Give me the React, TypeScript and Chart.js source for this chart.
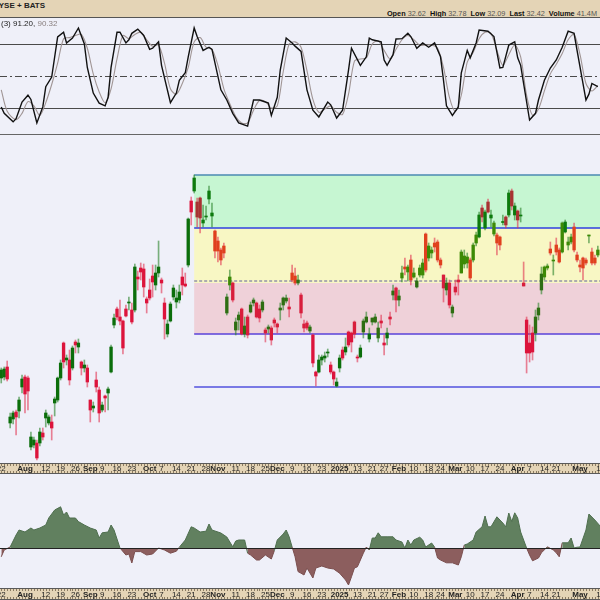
import React, { useEffect, useRef } from "react";
import { Chart, registerables } from "chart.js";

Chart.register(...registerables);

// x axis = trading-day index, 0 = 2024-07-22
const X_MIN = -0.42;
const X_MAX = 201.73;

const tickIdx = [0, 8, 15, 20, 25, 30, 34, 39, 44, 50, 54, 59, 64, 69, 73, 79, 84, 89, 93, 98, 103, 108, 114, 120, 125, 129, 134, 139, 144, 148, 153, 158, 163, 168, 174, 178, 183, 187, 195, 202];
const tickLabels = ["22", "Aug", "12", "19", "26", "Sep", "9", "16", "23", "Oct", "7", "14", "21", "28", "Nov", "11", "18", "25", "Dec", "9", "16", "23", "2025", "13", "21", "27", "Feb", "10", "18", "24", "Mar", "10", "17", "24", "Apr", "7", "14", "21", "May", "12"];
const monthLabels = ["Aug", "Sep", "Oct", "Nov", "Dec", "2025", "Feb", "Mar", "Apr", "May"];

const opens = [
  26.88, 26.92, 27.32, 25.08, 25.24, 25.52, 25.56, 26.52, 26.92, 26.88,
  24.12, 24.20, 24.28, 24.28, 24.68, 25.28, 25.08, 25.12, 25.88, 26.00,
  26.88, 28.28, 27.60, 27.60, 27.28, 28.32, 28.12, 27.52, 27.28, 27.28,
  26.00, 25.68, 26.80, 26.40, 25.60, 26.16, 26.28, 27.12, 29.00, 29.64,
  29.32, 29.16, 29.64, 29.88, 29.60, 29.60, 30.92, 31.28, 31.24, 30.04,
  30.40, 30.96, 30.60, 31.08, 30.80, 29.88, 28.64, 29.16, 30.12, 29.92,
  30.00, 30.92, 30.64, 31.40, 33.96, 34.36, 33.92, 34.08, 33.08, 33.32,
  34.04, 33.36, 32.76, 32.36, 32.00, 32.16, 29.48, 30.60, 30.68, 28.80,
  29.20, 29.64, 28.64, 29.32, 29.52, 29.88, 29.88, 29.64, 29.60, 28.80,
  28.84, 28.88, 29.20, 29.04, 29.60, 29.80, 29.96, 29.72, 31.08, 30.96,
  30.68, 30.20, 29.04, 29.08, 28.76, 28.60, 27.12, 27.12, 27.60, 27.68,
  27.88, 27.40, 27.12, 26.56, 27.28, 28.00, 27.92, 28.72, 28.68, 29.12,
  27.72, 27.72, 28.72, 29.12, 28.44, 29.12, 29.12, 28.48, 29.16, 28.28,
  28.48, 29.32, 30.20, 30.48, 30.00, 30.88, 31.32, 31.12, 31.60, 30.92,
  30.52, 31.00, 31.00, 32.64, 31.68, 31.88, 32.28, 32.32, 31.60, 31.00,
  30.40, 30.68, 29.48, 30.52, 30.80, 31.08, 31.44, 31.48, 31.60, 31.60,
  32.28, 32.52, 33.68, 32.88, 33.92, 33.28, 32.64, 32.60, 32.52, 33.10,
  33.32, 33.40, 34.36, 33.40, 33.56, 33.36, 30.68, 29.20, 28.28, 28.68,
  28.68, 29.40, 30.40, 30.92, 31.28, 32.04, 31.56, 32.20, 32.00, 31.92,
  32.72, 32.20, 32.32, 32.92, 31.80, 31.40, 31.68, 31.60, 32.56, 31.92,
  31.68, 31.80,
];
const highs = [
  27.28, 27.32, 27.56, 25.48, 25.56, 25.60, 26.12, 27.00, 27.00, 26.96,
  24.72, 24.52, 24.40, 24.88, 24.88, 25.60, 25.40, 25.40, 26.12, 26.92,
  27.60, 28.32, 27.80, 28.00, 28.16, 28.40, 28.44, 27.56, 27.60, 27.40,
  26.00, 25.92, 27.12, 26.52, 25.92, 26.20, 26.52, 28.20, 29.44, 29.72,
  30.00, 29.20, 29.80, 30.12, 29.88, 31.44, 31.16, 31.48, 31.44, 30.12,
  30.84, 31.40, 31.40, 32.36, 30.88, 30.08, 29.20, 29.92, 30.60, 30.40,
  30.60, 31.28, 31.08, 33.28, 34.12, 35.00, 34.08, 34.12, 33.80, 33.76,
  34.56, 33.88, 32.80, 32.52, 32.08, 32.28, 30.24, 31.20, 30.72, 29.28,
  29.52, 29.68, 29.32, 29.40, 29.92, 30.08, 29.92, 29.80, 30.00, 28.88,
  29.00, 28.96, 29.28, 29.08, 29.88, 30.12, 30.20, 30.08, 31.40, 31.28,
  31.00, 30.28, 29.20, 29.16, 29.00, 28.64, 27.16, 27.80, 27.80, 27.92,
  28.04, 27.52, 27.16, 26.88, 27.80, 28.12, 28.48, 28.76, 28.72, 29.16,
  27.80, 28.20, 29.24, 29.52, 28.88, 29.28, 29.44, 29.12, 29.40, 28.60,
  28.88, 29.52, 30.60, 30.52, 30.40, 31.36, 31.68, 31.40, 31.80, 31.28,
  30.88, 31.40, 31.64, 32.68, 32.28, 32.12, 32.48, 32.40, 31.68, 31.00,
  30.88, 30.80, 29.80, 30.80, 31.00, 32.00, 32.00, 31.88, 31.68, 32.28,
  32.72, 33.52, 33.80, 33.60, 34.04, 33.60, 33.16, 32.68, 32.56, 33.40,
  33.36, 34.40, 34.44, 33.88, 33.60, 33.68, 31.52, 29.32, 29.00, 28.92,
  29.60, 29.88, 31.32, 31.36, 31.44, 32.32, 31.80, 32.48, 32.08, 33.12,
  33.20, 32.52, 32.64, 33.08, 31.92, 31.60, 31.72, 31.68, 32.60, 32.08,
  31.80, 32.16,
];
const lows = [
  26.68, 26.80, 26.76, 24.88, 25.04, 24.60, 25.28, 26.28, 25.48, 25.60,
  24.00, 24.08, 23.60, 24.16, 24.40, 24.92, 25.00, 24.40, 25.36, 25.92,
  26.80, 27.28, 27.40, 26.60, 27.20, 27.88, 27.88, 27.00, 27.12, 26.52,
  25.12, 25.52, 26.32, 25.12, 25.52, 25.52, 25.60, 27.08, 28.88, 29.20,
  29.00, 27.84, 29.32, 29.60, 29.04, 29.52, 30.40, 30.80, 30.12, 29.48,
  30.00, 30.12, 30.40, 30.92, 30.28, 28.44, 28.52, 29.12, 30.00, 29.68,
  29.88, 30.20, 30.52, 31.32, 33.00, 34.28, 32.92, 32.68, 32.92, 33.20,
  33.84, 32.92, 31.68, 31.52, 31.40, 31.68, 29.40, 30.40, 29.92, 28.60,
  28.80, 28.60, 28.52, 28.48, 29.48, 29.76, 29.28, 29.12, 29.52, 28.32,
  28.68, 28.20, 28.92, 28.68, 29.20, 29.60, 29.88, 29.32, 30.72, 30.60,
  30.60, 29.28, 28.72, 28.80, 28.68, 27.32, 26.56, 27.08, 27.40, 27.52,
  27.72, 27.04, 26.60, 26.52, 27.12, 27.60, 27.80, 28.12, 27.92, 28.48,
  27.52, 27.68, 28.48, 29.08, 28.32, 29.00, 29.08, 28.32, 28.88, 27.80,
  28.20, 29.00, 30.00, 29.52, 29.76, 30.72, 31.00, 30.76, 30.60, 30.88,
  30.48, 30.92, 30.88, 31.12, 31.56, 31.68, 31.92, 31.52, 31.28, 29.92,
  30.20, 29.68, 29.32, 30.20, 30.20, 31.08, 31.28, 31.28, 30.80, 31.52,
  32.16, 32.48, 33.12, 32.80, 33.48, 32.92, 32.56, 31.80, 32.00, 33.00,
  32.88, 33.32, 33.60, 33.20, 32.88, 33.12, 30.56, 27.08, 27.52, 27.60,
  28.36, 29.20, 30.24, 30.80, 31.20, 31.80, 31.00, 31.80, 31.48, 31.88,
  32.68, 32.00, 32.24, 31.92, 31.52, 31.12, 30.80, 31.40, 32.28, 31.40,
  31.40, 31.72,
];
const closes = [
  27.20, 27.24, 26.84, 25.32, 25.48, 25.32, 26.00, 26.84, 26.24, 26.36,
  24.52, 24.40, 23.68, 24.72, 24.52, 25.48, 25.32, 24.88, 26.04, 26.88,
  27.48, 27.52, 27.68, 26.80, 28.08, 28.20, 28.28, 27.28, 27.40, 26.72,
  25.60, 25.76, 26.52, 25.48, 25.80, 26.08, 26.44, 28.12, 29.28, 29.32,
  29.16, 28.08, 29.36, 29.92, 29.12, 31.32, 30.84, 31.12, 30.52, 29.88,
  30.08, 30.72, 31.08, 31.32, 30.68, 29.24, 29.04, 29.84, 30.48, 30.08,
  30.32, 30.60, 30.56, 33.24, 33.52, 34.88, 33.32, 33.28, 33.20, 33.36,
  34.36, 33.48, 31.96, 31.96, 31.60, 31.88, 30.12, 30.92, 30.00, 29.12,
  29.40, 28.64, 28.96, 28.60, 29.80, 30.00, 29.32, 29.28, 29.92, 28.68,
  28.92, 28.40, 29.08, 28.92, 29.68, 30.08, 30.08, 29.64, 30.80, 30.68,
  30.80, 29.48, 28.88, 28.88, 28.92, 27.48, 26.96, 27.60, 27.72, 27.76,
  27.92, 27.12, 26.84, 26.72, 27.68, 27.68, 28.12, 28.20, 28.32, 28.64,
  27.68, 28.08, 29.16, 29.32, 28.64, 29.28, 29.32, 28.88, 29.08, 28.20,
  28.68, 29.24, 30.36, 30.00, 30.16, 31.08, 31.24, 31.32, 30.80, 31.08,
  30.76, 31.28, 31.48, 31.20, 32.16, 32.00, 32.12, 31.60, 31.40, 30.48,
  30.68, 29.80, 29.72, 30.32, 30.72, 31.92, 31.76, 31.72, 30.88, 32.20,
  32.60, 33.40, 33.32, 33.52, 33.52, 33.40, 33.08, 32.28, 32.20, 33.14,
  33.00, 34.28, 33.76, 33.76, 33.20, 33.40, 30.56, 27.88, 27.88, 27.92,
  29.32, 29.68, 31.04, 31.32, 31.36, 31.88, 31.60, 31.92, 31.52, 33.08,
  33.12, 32.32, 32.52, 32.00, 31.60, 31.32, 31.28, 31.48, 32.60, 31.48,
  31.48, 32.00,
];

const bandStart = 65;
const bandLevels = [35.0, 32.88, 30.76, 28.64, 26.52];

const stochKIdx = [0, 1, 4, 5, 7, 9, 10, 12, 14, 15, 17, 19, 21, 22, 24, 26, 28, 29, 31, 33, 35, 36, 37, 39, 40, 42, 43, 44, 46, 48, 50, 51, 53, 54, 57, 59, 60, 62, 63, 65, 66, 68, 70, 71, 74, 76, 78, 80, 83, 85, 87, 89, 90, 91, 93, 94, 96, 98, 99, 101, 103, 105, 107, 110, 111, 113, 115, 117, 118, 121, 123, 124, 125, 128, 129, 130, 132, 133, 135, 137, 138, 140, 142, 144, 146, 148, 149, 150, 152, 154, 155, 157, 158, 160, 161, 164, 166, 168, 169, 171, 173, 174, 175, 178, 180, 181, 183, 185, 187, 189, 191, 193, 194, 197, 198, 199, 201];
const stochKVal = [21, 15, 7, 10, 25.6, 32, 28, 6, 21, 40, 49, 86.6, 91, 81, 85.6, 95, 80, 58, 34, 24.6, 22, 30, 58, 91, 91, 81, 84, 90, 94, 88, 75, 76, 82, 60, 25, 34, 46, 53, 68, 95, 87, 74, 77, 75, 37, 27.5, 15, 6, 3, 27.5, 27.5, 25.6, 24.6, 13, 30, 55.6, 85.6, 81, 78, 73, 37, 18, 11.6, 25.6, 23, 10.6, 18, 55.6, 76, 60, 68, 85.6, 84, 82, 65, 60, 70, 84.7, 85, 90, 87, 76, 81, 77, 81, 68, 46, 22, 13, 21, 53, 74, 67, 81, 93, 92, 87, 57.5, 58, 79, 82, 67, 60, 8.7, 15, 27.5, 46, 57.5, 65, 77, 92, 90, 74, 27.5, 33, 43, 40];

const stochDIdx = [0, 2, 5, 7, 9, 11, 13, 15, 17, 19, 21, 23, 25, 27, 29, 31, 33, 35, 37, 39, 41, 43, 45, 47, 49, 51, 53, 55, 57, 59, 61, 63, 65, 67, 69, 71, 73, 75, 77, 79, 81, 83, 85, 87, 89, 91, 93, 95, 97, 99, 101, 103, 105, 107, 109, 111, 113, 115, 117, 119, 121, 123, 125, 127, 129, 131, 133, 135, 137, 139, 141, 143, 145, 147, 149, 151, 153, 155, 157, 159, 161, 163, 165, 167, 169, 171, 173, 175, 177, 179, 181, 183, 185, 187, 189, 191, 193, 195, 197, 199, 201];
const stochDVal = [37, 17, 9, 15, 26, 22, 13, 25, 42, 62, 85, 86, 88, 89, 76, 52, 35, 25, 38, 66, 88, 85, 89, 91, 84, 78, 79, 62, 38, 33, 43, 58, 82, 86, 77, 75, 60, 38, 24, 12, 6, 6, 18, 27, 26, 20, 22, 54, 80, 82, 77, 55, 28, 16, 19, 22, 16, 14, 33, 64, 66, 67, 80, 83, 74, 66, 75, 84, 88, 84, 79, 79, 79, 76, 58, 30, 17, 32, 63, 72, 85, 91, 90, 74, 60, 70, 79, 68, 32, 13, 19, 36, 52, 61, 71, 84, 89, 70, 43, 36, 41];

const oscIdx = [0, 1, 3, 5, 6, 8, 10, 11, 13, 15, 16, 18, 20, 21, 22, 23, 25, 26, 28, 30, 32, 33, 34, 36, 37, 38, 40, 42, 43, 44, 45, 47, 49, 51, 53, 55, 57, 59, 60, 62, 64, 65, 67, 69, 70, 71, 74, 76, 78, 79, 80, 82, 83, 84, 86, 87, 89, 91, 92, 93, 95, 96, 97, 98, 99, 100, 101, 102, 103, 105, 106, 108, 110, 112, 114, 116, 117, 118, 119, 120, 122, 123, 124, 125, 126, 127, 128, 130, 132, 133, 135, 136, 137, 138, 139, 141, 142, 143, 145, 146, 147, 148, 150, 152, 154, 155, 156, 157, 159, 160, 162, 163, 164, 165, 167, 169, 170, 171, 172, 173, 174, 175, 177, 178, 179, 181, 182, 184, 186, 187, 188, 189, 191, 192, 193, 194, 195, 197, 198, 200, 202];
const oscVal = [-2.2, -0.5, 0.25, 3.25, 4.5, 4, 5, 4.5, 5, 5.75, 7.5, 9.5, 10.3, 8.25, 9, 7.5, 7.5, 6.6, 5.75, 5, 4.5, 2.5, 3.8, 4, 5.75, 4.5, 0, -1.75, -1.5, -3.75, -0.9, -0.9, -1.75, -1.5, 0, -0.5, -1.3, -0.8, 0.2, 2, 5.3, 5, 4, 4.2, 6, 4.5, 3.75, 2.75, 0.3, 1.75, 2, 2, -1.3, -1.75, -3, -3, -1.75, -2.75, -0.7, 2, 3.5, 4.5, 2.8, 0.25, -2.2, -5.9, -6.3, -6.75, -5, -7.5, -5, -4.5, -5, -5.25, -6.3, -8, -9.25, -7.2, -5, -4.7, -1.3, 0.25, -0.5, 2.5, 2.5, 3.8, 2.8, 2.8, 2.8, 2, 1.5, 0, 2, 0.75, 2, 2.7, 2, 0.25, 1.25, 0.25, -2.5, -3, -3.7, -3.7, -4.25, -2.2, 0.75, 1, 2, 4, 5.3, 8, 5.3, 5.3, 7.8, 6.25, 5.3, 8.75, 6.6, 8.8, 7.5, 4, 0, -1.75, -3.2, -2.5, -1.2, 0.3, -0.5, -1.2, -2.2, 1.3, 1.3, 2.5, 0, 0.2, 0.25, 4.5, 8.5, 7, 5.3];

const headerItems = [["Open", "32.62"], ["High", "32.78"], ["Low", "32.09"], ["Last", "32.42"], ["Volume", "41.4M"]];

const FONT = '"Liberation Sans", Arial, sans-serif';
const BG = "#eff0f9";
const TAN = "#e4d4b6";

const candleColors: Record<string, [string, string]> = {
  none: ["#0b6e0b", "#dc143c"],
  green: ["#0d7a0d", "#a83232"],
  yellow: ["#3d8a05", "#e0401e"],
  pink: ["#2e6e12", "#d81e3c"],
};

function zoneOf(i: number, price: number) {
  if (i < bandStart || price > bandLevels[0] || price < bandLevels[3]) return "none";
  if (price >= bandLevels[1]) return "green";
  if (price >= bandLevels[2]) return "yellow";
  return "pink";
}

function baseOptions(yMin: number, yMax: number, padBottom: number): any {
  return {
    responsive: false,
    maintainAspectRatio: false,
    animation: false,
    devicePixelRatio: 1,
    events: [],
    layout: { padding: { left: 0, right: 0, top: 0, bottom: padBottom }, autoPadding: false },
    plugins: { legend: { display: false }, tooltip: { enabled: false } },
    scales: {
      x: { type: "linear", min: X_MIN, max: X_MAX, display: false, offset: false },
      y: { type: "linear", min: yMin, max: yMax, display: false },
    },
  };
}

function dateBand(bandH: number) {
  return {
    id: "dateBand",
    afterDraw(chart: any) {
      const { ctx, chartArea, scales } = chart;
      const xs = scales.x;
      const top = chartArea.bottom;
      ctx.save();
      ctx.fillStyle = TAN;
      ctx.fillRect(0, top, chart.width, bandH);
      ctx.strokeStyle = "#5a5a5a";
      ctx.lineWidth = 1;
      ctx.beginPath();
      ctx.moveTo(0, top + 0.5);
      ctx.lineTo(chart.width, top + 0.5);
      ctx.moveTo(0, top + bandH - 0.5);
      ctx.lineTo(chart.width, top + bandH - 0.5);
      ctx.stroke();
      ctx.strokeStyle = "#8a7a60";
      ctx.beginPath();
      for (let i = 0; i <= opens.length; i++) {
        const x = Math.round(xs.getPixelForValue(i)) + 0.5;
        ctx.moveTo(x, top + 1);
        ctx.lineTo(x, top + 3);
        ctx.moveTo(x, top + bandH - 3);
        ctx.lineTo(x, top + bandH - 1);
      }
      ctx.stroke();
      ctx.fillStyle = "#222";
      ctx.textAlign = "center";
      ctx.textBaseline = "middle";
      tickIdx.forEach((t, k) => {
        const lbl = tickLabels[k];
        ctx.font = monthLabels.includes(lbl) ? `bold 8px ${FONT}` : `8px ${FONT}`;
        ctx.fillText(lbl, xs.getPixelForValue(t), top + bandH / 2 + 0.5);
      });
      ctx.restore();
    },
  };
}

export default function App() {
  const stochRef = useRef<HTMLCanvasElement>(null);
  const priceRef = useRef<HTMLCanvasElement>(null);
  const oscRef = useRef<HTMLCanvasElement>(null);

  useEffect(() => {
    const charts: Chart[] = [];

    // Stochastic panel
    const stochLines = {
      id: "stochLines",
      beforeDatasetsDraw(chart: any) {
        const { ctx, chartArea, scales } = chart;
        const ys = scales.y;
        ctx.save();
        ctx.lineWidth = 1;
        ctx.strokeStyle = "#4a4a4a";
        [80, 20].forEach((v) => {
          const y = Math.round(ys.getPixelForValue(v)) + 0.5;
          ctx.beginPath();
          ctx.moveTo(chartArea.left, y);
          ctx.lineTo(chartArea.right, y);
          ctx.stroke();
        });
        ctx.setLineDash([7, 3, 2, 3]);
        const y50 = Math.round(ys.getPixelForValue(50)) + 0.5;
        ctx.beginPath();
        ctx.moveTo(chartArea.left, y50);
        ctx.lineTo(chartArea.right, y50);
        ctx.stroke();
        ctx.restore();
      },
    };
    charts.push(
      new Chart(stochRef.current!, {
        type: "line",
        data: {
          datasets: [
            {
              data: stochKIdx.map((x, k) => ({ x, y: stochKVal[k] })),
              borderColor: "#111",
              borderWidth: 1.4,
              pointRadius: 0,
              tension: 0,
              order: 0,
            },
            {
              data: stochDIdx.map((x, k) => ({ x, y: stochDVal[k] })),
              borderColor: "#a09595",
              borderWidth: 1.1,
              pointRadius: 0,
              tension: 0.3,
              order: 1,
            },
          ],
        },
        options: baseOptions(-4.375, 104.375, 0),
        plugins: [stochLines],
      } as any)
    );

    // Price panel
    const bands = {
      id: "bands",
      beforeDatasetsDraw(chart: any) {
        const { ctx, chartArea, scales } = chart;
        const xs = scales.x;
        const ys = scales.y;
        const x0 = xs.getPixelForValue(bandStart);
        const x1 = chartArea.right;
        const yl = bandLevels.map((p) => ys.getPixelForValue(p));
        ctx.save();
        ctx.fillStyle = "#c6f6d2";
        ctx.fillRect(x0, yl[0], x1 - x0, yl[1] - yl[0]);
        ctx.fillStyle = "#f8f7c4";
        ctx.fillRect(x0, yl[1], x1 - x0, yl[2] - yl[1] + 2);
        ctx.fillStyle = "#efd1d9";
        ctx.fillRect(x0, yl[2] + 2, x1 - x0, yl[3] - yl[2] - 2);
        const lineStyles: [string, number, number[]][] = [
          ["#4a8ab2", 1.5, []],
          ["#2f3fe0", 1.5, []],
          ["#60609a", 1, [3, 2]],
          ["#5a42d8", 1.5, []],
          ["#5252de", 1.5, []],
        ];
        lineStyles.forEach(([c, w, d], k) => {
          ctx.strokeStyle = c;
          ctx.lineWidth = w;
          ctx.setLineDash(d);
          ctx.beginPath();
          ctx.moveTo(x0, yl[k]);
          ctx.lineTo(x1, yl[k]);
          ctx.stroke();
        });
        ctx.restore();
      },
    };

    const bodyColors: string[] = [];
    const wickColors: string[] = [];
    opens.forEach((o, i) => {
      const c = closes[i];
      const up = c >= o;
      const zone = zoneOf(i, (o + c) / 2);
      const col = candleColors[zone][up ? 0 : 1];
      bodyColors.push(col);
      wickColors.push(up ? "rgba(40,130,40,0.6)" : "rgba(225,50,80,0.6)");
    });

    charts.push(
      new Chart(priceRef.current!, {
        type: "bar",
        data: {
          datasets: [
            {
              data: opens.map((o, i) => ({ x: i, y: [Math.min(o, closes[i]), Math.max(o, closes[i])] })),
              backgroundColor: bodyColors,
              barThickness: 2.7,
              minBarLength: 1,
              grouped: false,
              borderWidth: 0,
              order: 0,
            },
            {
              data: opens.map((o, i) => ({ x: i, y: [lows[i], highs[i]] })),
              backgroundColor: wickColors,
              barThickness: 1,
              grouped: false,
              borderWidth: 0,
              order: 1,
            },
          ],
        },
        options: baseOptions(23.48, 36.6, 11),
        plugins: [bands, dateBand(11)],
      } as any)
    );

    // Oscillator panel
    const zeroLine = {
      id: "zeroLine",
      afterDatasetsDraw(chart: any) {
        const { ctx, chartArea, scales } = chart;
        const y = Math.round(scales.y.getPixelForValue(0)) + 0.5;
        ctx.save();
        ctx.strokeStyle = "#222";
        ctx.lineWidth = 1;
        ctx.beginPath();
        ctx.moveTo(chartArea.left, y);
        ctx.lineTo(chartArea.right, y);
        ctx.stroke();
        ctx.restore();
      },
    };
    charts.push(
      new Chart(oscRef.current!, {
        type: "line",
        data: {
          datasets: [
            {
              data: oscIdx.map((x, k) => ({ x, y: oscVal[k] })),
              borderWidth: 1,
              borderColor: "#4e6e4e",
              segment: {
                borderColor: (ctx: any) =>
                  ctx.p0.parsed.y + ctx.p1.parsed.y >= 0 ? "#4e6e4e" : "#7a4e4e",
              },
              pointRadius: 0,
              tension: 0,
              fill: { target: { value: 0 }, above: "#61805f", below: "#8c5e5e" },
            },
          ],
        },
        options: baseOptions(-10, 18.5, 12),
        plugins: [zeroLine, dateBand(12)],
      } as any)
    );

    return () => charts.forEach((c) => c.destroy());
  }, []);

  return (
    <div style={{ position: "absolute", left: 0, top: 0, width: 600, height: 600, background: BG, overflow: "hidden", fontFamily: FONT }}>
      <div style={{ position: "absolute", left: 0, top: 0, width: 600, height: 17, background: TAN, borderBottom: "1px solid #555", overflow: "hidden" }}>
        <div style={{ position: "absolute", left: -7, top: 1, fontSize: 8, fontWeight: "bold", color: "#222", whiteSpace: "nowrap", lineHeight: "9px" }}>
          NYSE + BATS
        </div>
        <div style={{ position: "absolute", right: 3, top: 10, fontSize: 7.3, color: "#555", whiteSpace: "nowrap", lineHeight: "8px" }}>
          {headerItems.map(([k, v], n) => (
            <span key={k}>
              <b style={{ color: "#111" }}>{k}</b> {v}
              {n < headerItems.length - 1 ? "\u00a0 " : ""}
            </span>
          ))}
        </div>
      </div>
      <canvas ref={stochRef} width={600} height={116} style={{ position: "absolute", left: 0, top: 18, width: 600, height: 116 }} />
      <div style={{ position: "absolute", left: 1, top: 19, fontSize: 8, color: "#222", whiteSpace: "nowrap", lineHeight: "9px" }}>
        (3) 91.20, <span style={{ color: "#8a8080" }}>90.32</span>
      </div>
      <div style={{ position: "absolute", left: 0, top: 134, width: 600, height: 1, background: "#666" }} />
      <canvas ref={priceRef} width={600} height={339} style={{ position: "absolute", left: 0, top: 135, width: 600, height: 339 }} />
      <canvas ref={oscRef} width={600} height={126} style={{ position: "absolute", left: 0, top: 474, width: 600, height: 126 }} />
    </div>
  );
}
